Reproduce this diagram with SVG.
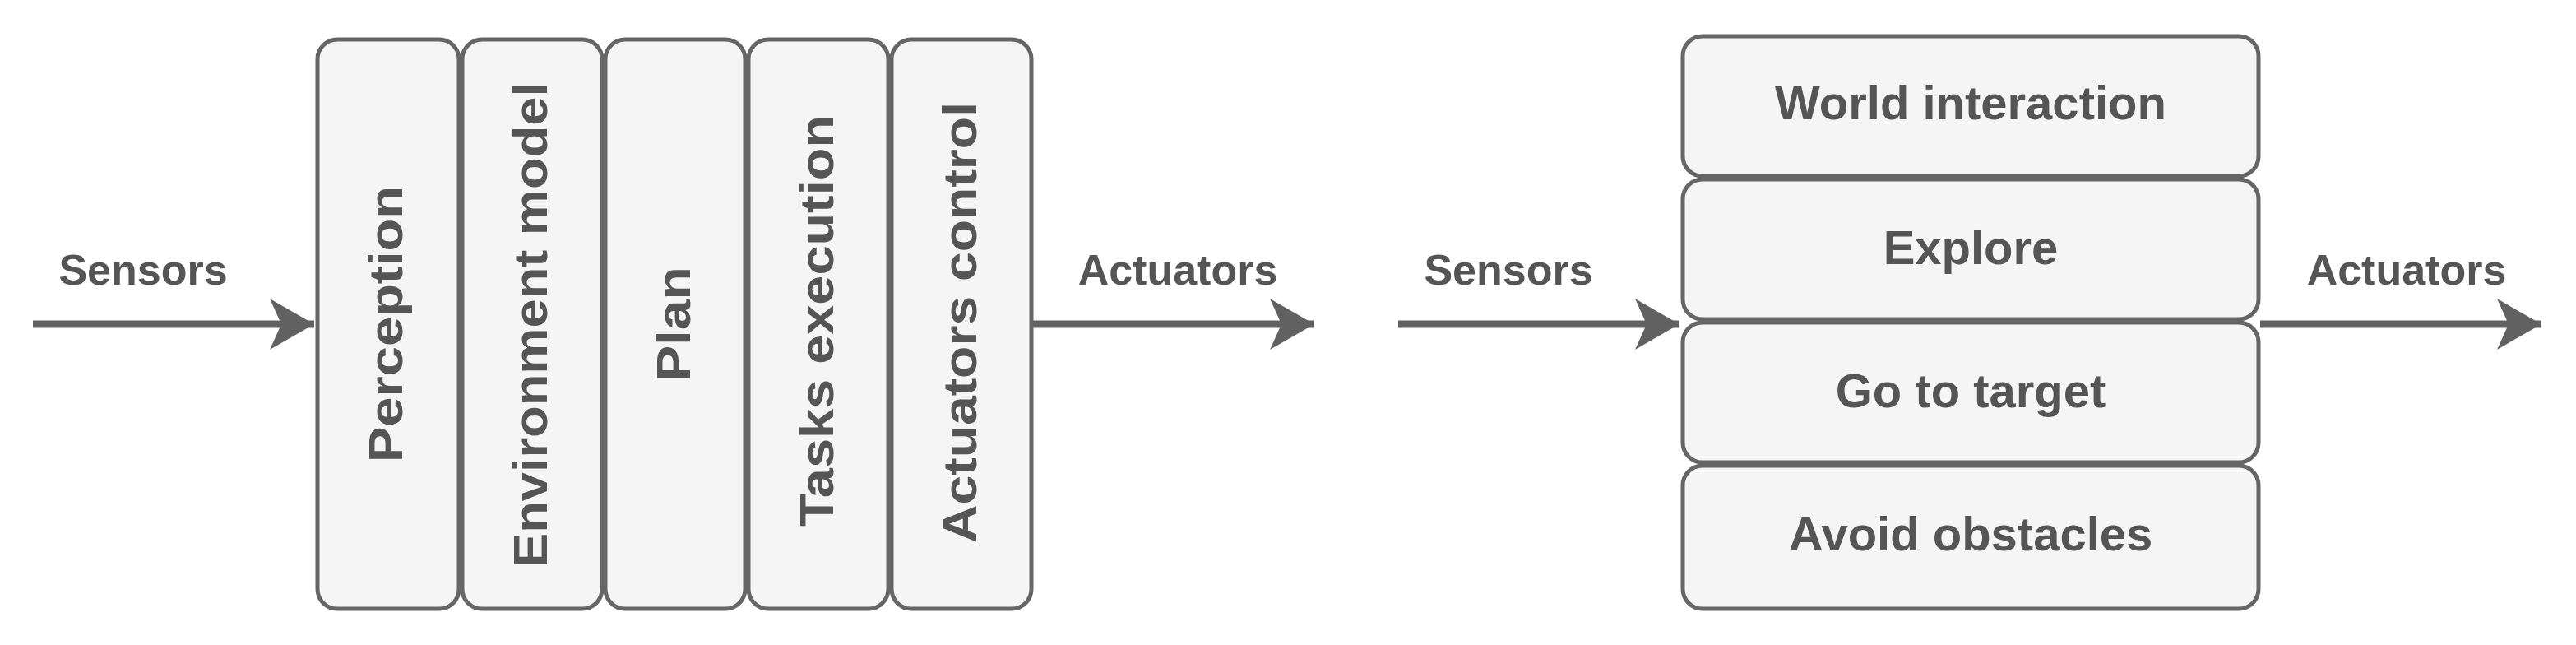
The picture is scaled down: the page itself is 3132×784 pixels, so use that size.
<svg xmlns="http://www.w3.org/2000/svg" width="3132" height="784" viewBox="0 0 3132 784">
<style>
.b{fill:#f5f5f5;stroke:#666;stroke-width:5}
.t{font-family:"Liberation Sans",Arial,sans-serif;font-weight:bold;fill:#555;text-anchor:middle;dominant-baseline:central}
.c{stroke:#616161;stroke-width:9;fill:none}
</style>
<defs>
<marker id="a" markerUnits="userSpaceOnUse" markerWidth="70" markerHeight="70" refX="60" refY="35" orient="auto" viewBox="0 0 70 70">
<path d="M60 35 L6 4 L20 35 L6 66 Z" fill="#616161"/>
</marker>
</defs>
<rect width="3132" height="784" fill="#fff"/>
<g id="connectors">
<line class="c" x1="40" y1="394" x2="382" y2="394" marker-end="url(#a)"/>
<line class="c" x1="1256" y1="394" x2="1598" y2="394" marker-end="url(#a)"/>
<line class="c" x1="1700" y1="394" x2="2042" y2="394" marker-end="url(#a)"/>
<line class="c" x1="2748" y1="394" x2="3090" y2="394" marker-end="url(#a)"/>
</g>
<g id="lbl-sensors1"><text class="t" x="174" y="328" font-size="52">Sensors</text></g>
<g id="lbl-act1"><text class="t" x="1432" y="328" font-size="52">Actuators</text></g>
<g id="lbl-sensors2"><text class="t" x="1834" y="328" font-size="52">Sensors</text></g>
<g id="lbl-act2"><text class="t" x="2926" y="328" font-size="52">Actuators</text></g>
<g id="perception"><rect class="b" x="386" y="48" width="172" height="692" rx="24"/><text class="t" font-size="58" transform="translate(468,394) rotate(-90)" textLength="336" lengthAdjust="spacingAndGlyphs">Perception</text></g>
<g id="environment"><rect class="b" x="562" y="48" width="170" height="692" rx="24"/><text class="t" font-size="58" transform="translate(644,395) rotate(-90)" textLength="590" lengthAdjust="spacingAndGlyphs">Environment model</text></g>
<g id="plan"><rect class="b" x="736" y="48" width="170" height="692" rx="24"/><text class="t" font-size="58" transform="translate(818,394) rotate(-90)" textLength="140" lengthAdjust="spacingAndGlyphs">Plan</text></g>
<g id="tasks"><rect class="b" x="910" y="48" width="170" height="692" rx="24"/><text class="t" font-size="58" transform="translate(992,390) rotate(-90)" textLength="500" lengthAdjust="spacingAndGlyphs">Tasks execution</text></g>
<g id="actuators"><rect class="b" x="1084" y="48" width="170" height="692" rx="24"/><text class="t" font-size="58" transform="translate(1166,392) rotate(-90)" textLength="536" lengthAdjust="spacingAndGlyphs">Actuators control</text></g>
<g id="world"><rect class="b" x="2046" y="44" width="700" height="170" rx="24"/><text class="t" x="2396" y="124" font-size="58">World interaction</text></g>
<g id="explore"><rect class="b" x="2046" y="218" width="700" height="170" rx="24"/><text class="t" x="2396" y="300" font-size="58">Explore</text></g>
<g id="goto"><rect class="b" x="2046" y="392" width="700" height="170" rx="24"/><text class="t" x="2396" y="474" font-size="58">Go to target</text></g>
<g id="avoid"><rect class="b" x="2046" y="566" width="700" height="174" rx="24"/><text class="t" x="2396" y="648" font-size="58">Avoid obstacles</text></g>
</svg>
